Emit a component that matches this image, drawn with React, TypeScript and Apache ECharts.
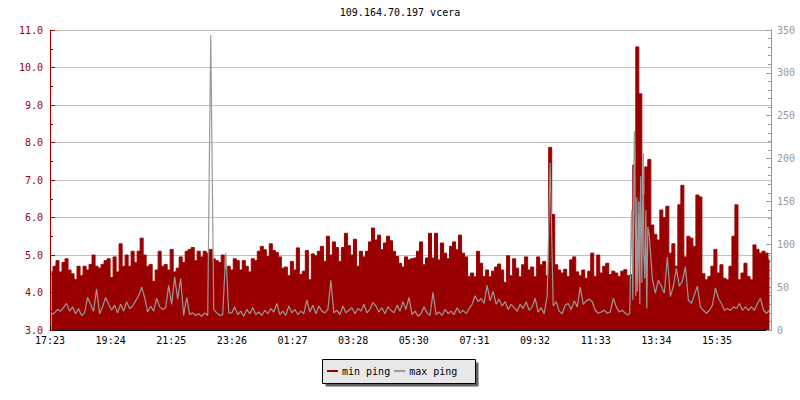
import React, { useEffect, useRef } from "react";
import * as echarts from "echarts";

const chartTitle = "109.164.70.197 vcera";
const legendNames = ["min ping", "max ping"];
// first sample at 17:23 (+0.45 min), one sample every 6 minutes
const startMinute = 17 * 60 + 23 + 0.45;
const sampleStep = 6;

// min ping (ms, left axis)
const minPing = [
  4.55, 4.7, 4.85, 4.55, 4.8, 4.9, 4.6, 4.5, 4.35, 4.7,
  4.45, 4.7, 4.6, 4.75, 5.0, 4.7, 4.65, 4.75, 4.85, 4.9,
  4.4, 4.95, 4.55, 5.3, 4.7, 5.0, 4.7, 5.1, 4.8, 5.1,
  5.45, 5.0, 4.7, 4.75, 4.3, 4.6, 5.1, 4.7, 4.75, 4.6,
  5.15, 4.55, 4.65, 4.95, 4.8, 5.1, 5.15, 5.2, 4.85, 5.1,
  4.95, 5.1, 5.05, 5.15, 4.9, 4.85, 4.8, 5.0, 4.65, 4.7,
  4.6, 4.9, 4.85, 4.6, 4.85, 4.7, 4.55, 4.9, 4.85, 5.1,
  5.23, 5.14, 4.96, 5.3, 5.12, 5.07, 4.95, 4.65, 4.68, 4.45,
  4.83, 4.6, 5.19, 4.48, 4.57, 5.12, 4.34, 5.03, 4.98, 5.1,
  5.23, 4.83, 5.5, 5.0, 5.35, 5.2, 4.83, 5.2, 5.58, 5.25,
  5.0, 5.42, 4.7, 5.1, 4.95, 5.1, 5.35, 5.72, 5.4, 5.53,
  5.14, 5.32, 5.5, 5.38, 5.1, 4.96, 4.78, 4.68, 4.95, 4.87,
  4.9, 4.92, 5.1, 5.35, 4.74, 4.92, 5.58, 4.92, 5.58, 4.87,
  5.32, 5.05, 4.9, 5.23, 5.35, 5.14, 5.53, 5.05, 4.95, 4.43,
  4.52, 4.42, 5.1, 4.78, 4.43, 4.6, 4.42, 4.57, 4.68, 4.76,
  4.6, 4.27, 4.98, 4.45, 4.9, 4.65, 4.42, 4.74, 4.95, 4.6,
  4.68, 4.42, 4.95, 4.74, 4.83, 4.45, 7.87, 6.08, 4.74, 4.6,
  4.52, 4.62, 4.43, 4.87, 4.95, 4.55, 4.45, 4.6, 4.38, 4.57,
  5.05, 4.43, 5.0, 4.52, 4.7, 4.78, 4.48, 4.57, 4.52, 4.43,
  4.57, 4.61, 4.45, 4.48, 7.4, 10.55, 9.3, 6.6, 7.35, 7.55,
  5.8, 5.55, 5.4, 6.2, 6.0, 6.3, 5.05, 5.3, 4.7, 6.34,
  6.86, 4.95, 5.5, 5.45, 5.23, 6.6, 6.55, 4.5, 4.34, 4.43,
  4.7, 5.15, 4.52, 4.74, 4.38, 4.34, 4.7, 5.5, 6.34, 4.34,
  4.52, 4.78, 4.43, 4.34, 5.27, 5.15, 5.05, 5.1, 5.05, 4.87,
];

// max ping (ms, right axis)
const maxPing = [
  18, 20, 24, 22, 26, 31, 22, 27, 19, 25,
  17, 20, 38, 30, 22, 48, 19, 27, 38, 30,
  23, 29, 20, 30, 22, 33, 25, 28, 34, 40,
  50, 38, 21, 28, 22, 37, 27, 24, 26, 52,
  30, 62, 36, 60, 17, 38, 18, 20, 17, 19,
  16, 20, 17, 344, 24, 20, 17, 18, 90, 20,
  20, 27, 18, 22, 16, 24, 19, 26, 18, 21,
  17, 23, 19, 25, 21, 31, 18, 22, 17, 28,
  20, 24, 18, 22, 19, 35, 21, 29, 19, 28,
  22, 20, 24, 58, 20, 23, 18, 28, 20, 23,
  26, 19, 25, 22, 30, 20, 24, 32, 28, 21,
  26, 19, 27, 23, 20, 29, 22, 33, 24, 38,
  18, 22, 16, 19, 27, 20, 17, 44, 18, 21,
  17, 24, 19, 22, 18, 26, 20, 23, 19, 25,
  30, 40, 33, 37, 31, 52, 34, 45, 30, 36,
  28, 33, 24, 30, 26, 22, 30, 25, 33, 23,
  27, 37, 21, 26, 19, 40, 195, 28, 33, 22,
  19, 29, 31, 24, 34, 27, 50, 30, 34, 36,
  33, 23, 19.5, 21, 23, 19.5, 21, 37, 27, 21,
  23, 19.5, 17.5, 130, 232, 45, 150, 206, 70, 110,
  60, 43, 58, 51, 43, 85, 39, 51, 72, 51,
  57, 74, 35, 31, 41, 51, 27, 23, 19.5, 23,
  29, 49, 37, 31, 23, 25, 23, 27, 25, 31,
  23, 27, 23, 27, 23, 31, 37, 23, 19.5, 23,
];

// extra 2-minute samples of max ping around the 13:00 burst
const burstStartMinute = 1158;
const burstStep = 2;
const maxPingBurst = [
  20, 95, 140, 35, 160, 210, 40, 155, 60, 150,
  30, 180, 55, 165, 90, 60, 140, 25, 120,
];

const FONT = "DejaVu Sans Mono";
const RED = "#990000";
const GREY = "#999999";

function timeLabel(v: number): string {
  const total = Math.floor(startMinute + v + 1e-6);
  const m = ((total % 1440) + 1440) % 1440;
  const hh = Math.floor(m / 60);
  const mm = m % 60;
  return String(hh).padStart(2, "0") + ":" + String(mm).padStart(2, "0");
}

export default function App() {
  const ref = useRef<HTMLDivElement>(null);
  useEffect(() => {
    if (!ref.current) return;
    const chart = echarts.init(ref.current, null, { renderer: "svg" });
    const minData = minPing.map((v, i) => [i * sampleStep + 3, v]);
    const maxData = [
      ...maxPing.map((v, i) => [i * sampleStep + 3, v]),
      ...maxPingBurst.map((v, k) => [burstStartMinute + k * burstStep, v]),
    ].sort((a, b) => a[0] - b[0]);

    chart.setOption({
      animation: false,
      backgroundColor: "#ffffff",
      title: {
        text: chartTitle,
        left: "center",
        top: 7,
        padding: 0,
        textStyle: { fontFamily: FONT, fontSize: 10, fontWeight: "normal", color: "#000" },
      },
      grid: { left: 50, right: 29, top: 30, bottom: 70 },
      graphic: [
        { type: "rect", z: 0, shape: { x: 325.5, y: 362.5, width: 153, height: 24 }, style: { fill: "#606060" } },
        { type: "rect", z: 1, shape: { x: 322.5, y: 359.5, width: 153, height: 24 }, style: { fill: "#e8e8e8", stroke: "#000", lineWidth: 1 } },
      ],
      legend: {
        data: legendNames,
        left: 327,
        top: 366,
        padding: 0,
        itemWidth: 11,
        itemHeight: 2,
        itemGap: 4,
        icon: "rect",
        selectedMode: false,
        z: 5,
        textStyle: { fontFamily: FONT, fontSize: 10, color: "#000", padding: [0, 0, 0, -1] },
      },
      xAxis: {
        type: "value",
        min: 0,
        max: 1440,
        interval: 121.1,
        axisLine: { show: true, onZero: false, lineStyle: { color: "#000", width: 1 } },
        axisTick: { show: true, inside: true, length: 4, lineStyle: { color: "#000" } },
        axisLabel: {
          color: "#000",
          fontFamily: FONT,
          fontSize: 10,
          margin: 5,
          showMaxLabel: false,
          formatter: (v: number) => timeLabel(v),
        },
        splitLine: { show: false },
      },
      yAxis: [
        {
          type: "value",
          min: 3,
          max: 11,
          interval: 1,
          position: "left",
          axisLine: { show: true, onZero: false, lineStyle: { color: RED } },
          axisTick: { show: true, inside: true, length: 5, lineStyle: { color: RED } },
          minorTick: { show: true, splitNumber: 2, length: 3, lineStyle: { color: RED } },
          axisLabel: {
            color: RED,
            fontFamily: FONT,
            fontSize: 10,
            margin: 7,
            formatter: (v: number) => v.toFixed(1),
          },
          splitLine: { show: true, lineStyle: { color: "#c0c0c0", width: 1 } },
        },
        {
          type: "value",
          min: 0,
          max: 350,
          interval: 50,
          position: "right",
          axisLine: { show: true, onZero: false, lineStyle: { color: GREY } },
          axisTick: { show: true, inside: true, length: 5, lineStyle: { color: GREY } },
          minorTick: { show: true, splitNumber: 5, length: 3, lineStyle: { color: GREY } },
          axisLabel: { color: GREY, fontFamily: FONT, fontSize: 10, margin: 6 },
          splitLine: { show: false },
        },
      ],
      series: [
        {
          name: legendNames[0],
          type: "line",
          yAxisIndex: 0,
          data: minData,
          step: "middle",
          symbol: "none",
          color: RED,
          lineStyle: { width: 1, color: RED },
          areaStyle: { color: RED, opacity: 1 },
          z: 2,
        },
        {
          name: legendNames[1],
          type: "line",
          yAxisIndex: 1,
          data: maxData,
          symbol: "none",
          color: GREY,
          lineStyle: { width: 1.2, color: GREY },
          z: 3,
        },
      ],
    });
    return () => chart.dispose();
  }, []);
  return (
    <div
      ref={ref}
      style={{ position: "fixed", left: 0, top: 0, width: 800, height: 400, background: "#fff" }}
    />
  );
}
